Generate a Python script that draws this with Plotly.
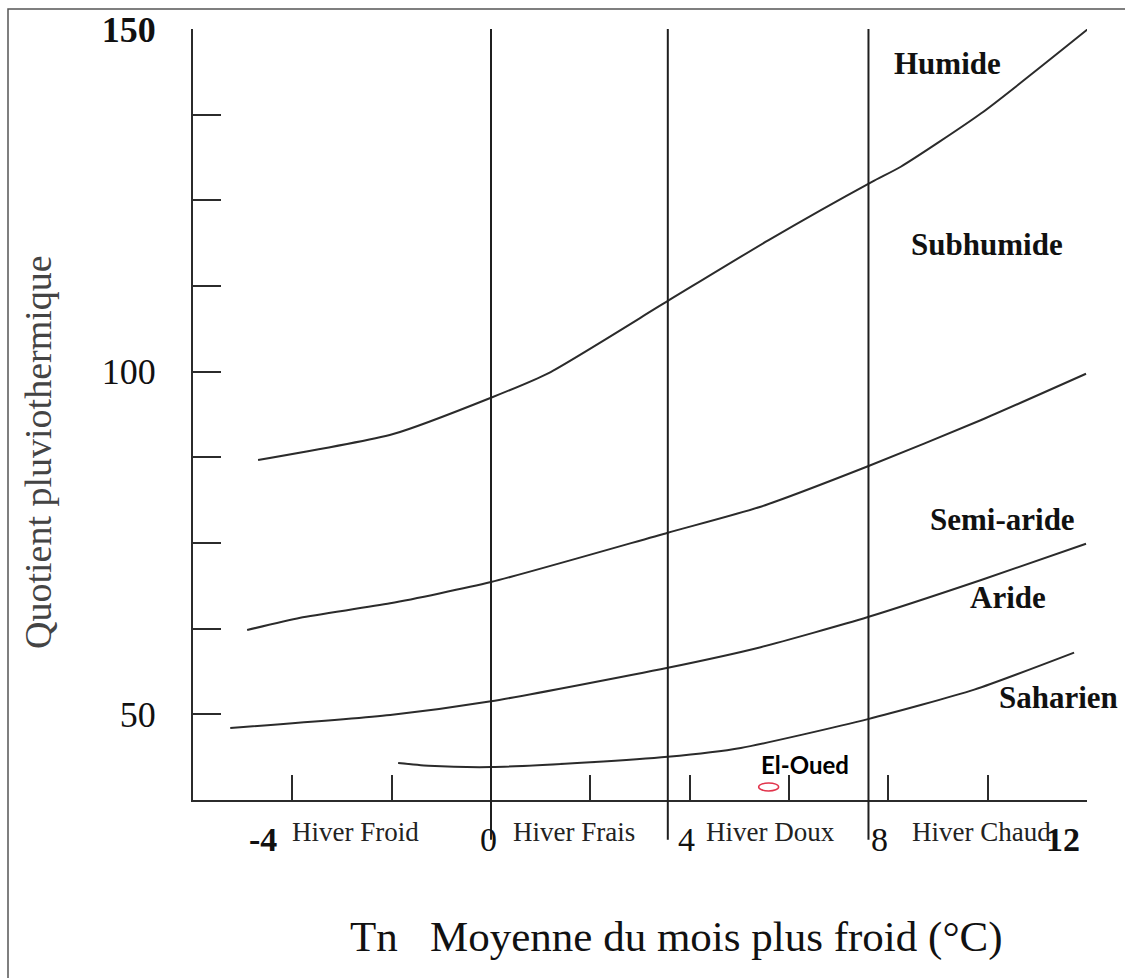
import numpy as np
import plotly.graph_objects as go

# Emberger climagram: limits between bioclimatic stages (Q2 vs Tn)
tn_hum = [-4.69, -1.97, 0.0, 1.16, 3.6, 5.59, 7.67, 8.25, 9.87, 12.02]
q_hum = [87.1, 90.9, 96.2, 99.8, 110.5, 119.2, 127.7, 129.9, 137.7, 150.0]

tn_subhum = [-4.91, -3.84, -2.03, 0.0, 3.56, 5.43, 7.59, 9.87, 11.98]
q_subhum = [62.3, 64.1, 66.2, 69.3, 76.5, 80.3, 86.2, 92.95, 99.7]

tn_semiar = [-5.25, -2.03, 0.0, 3.56, 5.43, 7.59, 9.87, 11.98]
q_semiar = [48.0, 49.9, 51.9, 56.8, 59.8, 64.2, 69.6, 74.9]

tn_arid = [-1.87, -1.26, 0.0, 2.0, 3.56, 5.03, 7.59, 9.73, 11.74]
q_arid = [42.9, 42.5, 42.3, 43.0, 43.8, 45.1, 49.3, 53.6, 59.0]

# Stage names and where they are written
stage_names = ["Humide", "Subhumide", "Semi-aride", "Aride", "Saharien"]
stage_x = [9.20, 9.99, 10.29, 10.41, 11.42]
stage_y = [145.0, 118.5, 78.4, 67.0, 52.5]

# Winter variants separated by vertical limits on Tn
winter_limits = [0.0, 3.56, 7.6]
winter_names = ["Hiver Froid", "Hiver Frais", "Hiver Doux", "Hiver Chaud"]
winter_label_x = [-2.73, 1.68, 5.63, 9.87]

# Station
station_name = "El-Oued"
station_tn = 5.59
station_q = 39.4

# Axis settings
x_min, x_max = -6, 12
y_min, y_max = 37.5, 150
x_ticks = list(np.arange(-6, 12.1, 2))
x_label_vals = [-4, 0, 4, 8, 12]
x_label_text = ["<b>-4</b>", "0", "4", "8", "<b>12</b>"]
x_label_shift = [-29, -3, -3, -9, -24]  # hand-lettered labels sit left of their ticks
y_ticks = list(np.arange(37.5, 150.1, 12.5))
y_ticktext = ["", "50", "", "", "", "100", "", "", "", "<b>150</b>"]
limit_bottom_q = 31.7  # winter limits run a little below the Tn axis

W, H = 1125, 978
ML, MR, MT, MB = 193, 38, 29, 178
PW, PH = W - ML - MR, H - MT - MB

SERIF = "Liberation Serif"
INK = "#2b2b2b"

fig = go.Figure()

for xs, ys in [(tn_hum, q_hum), (tn_subhum, q_subhum),
               (tn_semiar, q_semiar), (tn_arid, q_arid)]:
    fig.add_trace(go.Scatter(
        x=xs, y=ys, mode="lines",
        line=dict(color=INK, width=2, shape="spline", smoothing=0.6),
        hoverinfo="skip", showlegend=False,
    ))

# vertical winter limits
bottom_dom = (limit_bottom_q - y_min) / (y_max - y_min)
for xv in winter_limits:
    fig.add_shape(type="line", xref="x", yref="y domain",
                  x0=xv, x1=xv, y0=bottom_dom, y1=1,
                  line=dict(color="#1f1f1f", width=2))

# station marker (small open ellipse)
fig.add_shape(type="circle", xref="x", yref="y",
              xsizemode="pixel", ysizemode="pixel",
              xanchor=station_tn, yanchor=station_q,
              x0=-10, x1=10, y0=-4, y1=4,
              line=dict(color="#e2344c", width=1.5), fillcolor="white")
fig.add_annotation(x=station_tn, y=station_q, xref="x", yref="y",
                   text="<b>" + station_name + "</b>", showarrow=False,
                   xshift=36, yshift=22,
                   font=dict(family="Lato", size=24, color="black"))

# stage labels
for name, sx, sy in zip(stage_names, stage_x, stage_y):
    fig.add_annotation(x=sx, y=sy, xref="x", yref="y", text="<b>" + name + "</b>",
                       showarrow=False, xanchor="center", yanchor="middle",
                       font=dict(family=SERIF, size=31, color="#111"))

# Tn labels under the axis
for val, txt, dx in zip(x_label_vals, x_label_text, x_label_shift):
    fig.add_annotation(x=val, y=-39 / PH, xref="x", yref="paper", text=txt,
                       showarrow=False, xanchor="center", yanchor="middle",
                       xshift=dx, font=dict(family=SERIF, size=34, color="#111"))

# winter labels under the axis
for name, wx in zip(winter_names, winter_label_x):
    fig.add_annotation(x=wx, y=-32 / PH, xref="x", yref="paper", text=name,
                       showarrow=False, xanchor="center", yanchor="middle",
                       font=dict(family=SERIF, size=27, color="#222"))

# axis titles
fig.add_annotation(x=(38 - ML) / PW, y=(PH - (452 - MT)) / PH, xref="paper", yref="paper",
                   text="Quotient pluviothermique", textangle=-90, showarrow=False,
                   xanchor="center", yanchor="middle",
                   font=dict(family=SERIF, size=38, color="#444"))
fig.add_annotation(x=(676 - ML) / PW, y=-(937 - MT - PH) / PH, xref="paper", yref="paper",
                   text="Tn   Moyenne du mois plus froid (°C)", showarrow=False,
                   xanchor="center", yanchor="middle",
                   font=dict(family=SERIF, size=43, color="#111"))

# frame around the whole figure
fig.add_shape(type="rect", xref="paper", yref="paper",
              x0=(8 - ML) / PW, x1=(1126 - ML) / PW,
              y0=(PH + MT - 982) / PH, y1=(PH + MT - 9) / PH,
              line=dict(color="#555", width=1.5))

fig.update_xaxes(range=[x_min, x_max], tickvals=x_ticks, showticklabels=False,
                 ticks="inside", ticklen=25, tickwidth=2, tickcolor=INK,
                 showline=True, linewidth=2, linecolor=INK,
                 showgrid=False, zeroline=False)
fig.update_yaxes(range=[y_min, y_max], tickvals=y_ticks, ticktext=y_ticktext,
                 ticks="inside", ticklen=28, tickwidth=2, tickcolor=INK,
                 showline=True, linewidth=2, linecolor=INK,
                 showgrid=False, zeroline=False, ticklabelstandoff=28,
                 tickfont=dict(family=SERIF, size=36, color="#111"))

fig.update_layout(width=W, height=H,
                  margin=dict(l=ML, r=MR, t=MT, b=MB, autoexpand=False),
                  paper_bgcolor="white", plot_bgcolor="white",
                  showlegend=False)

fig.write_html("out.html")
